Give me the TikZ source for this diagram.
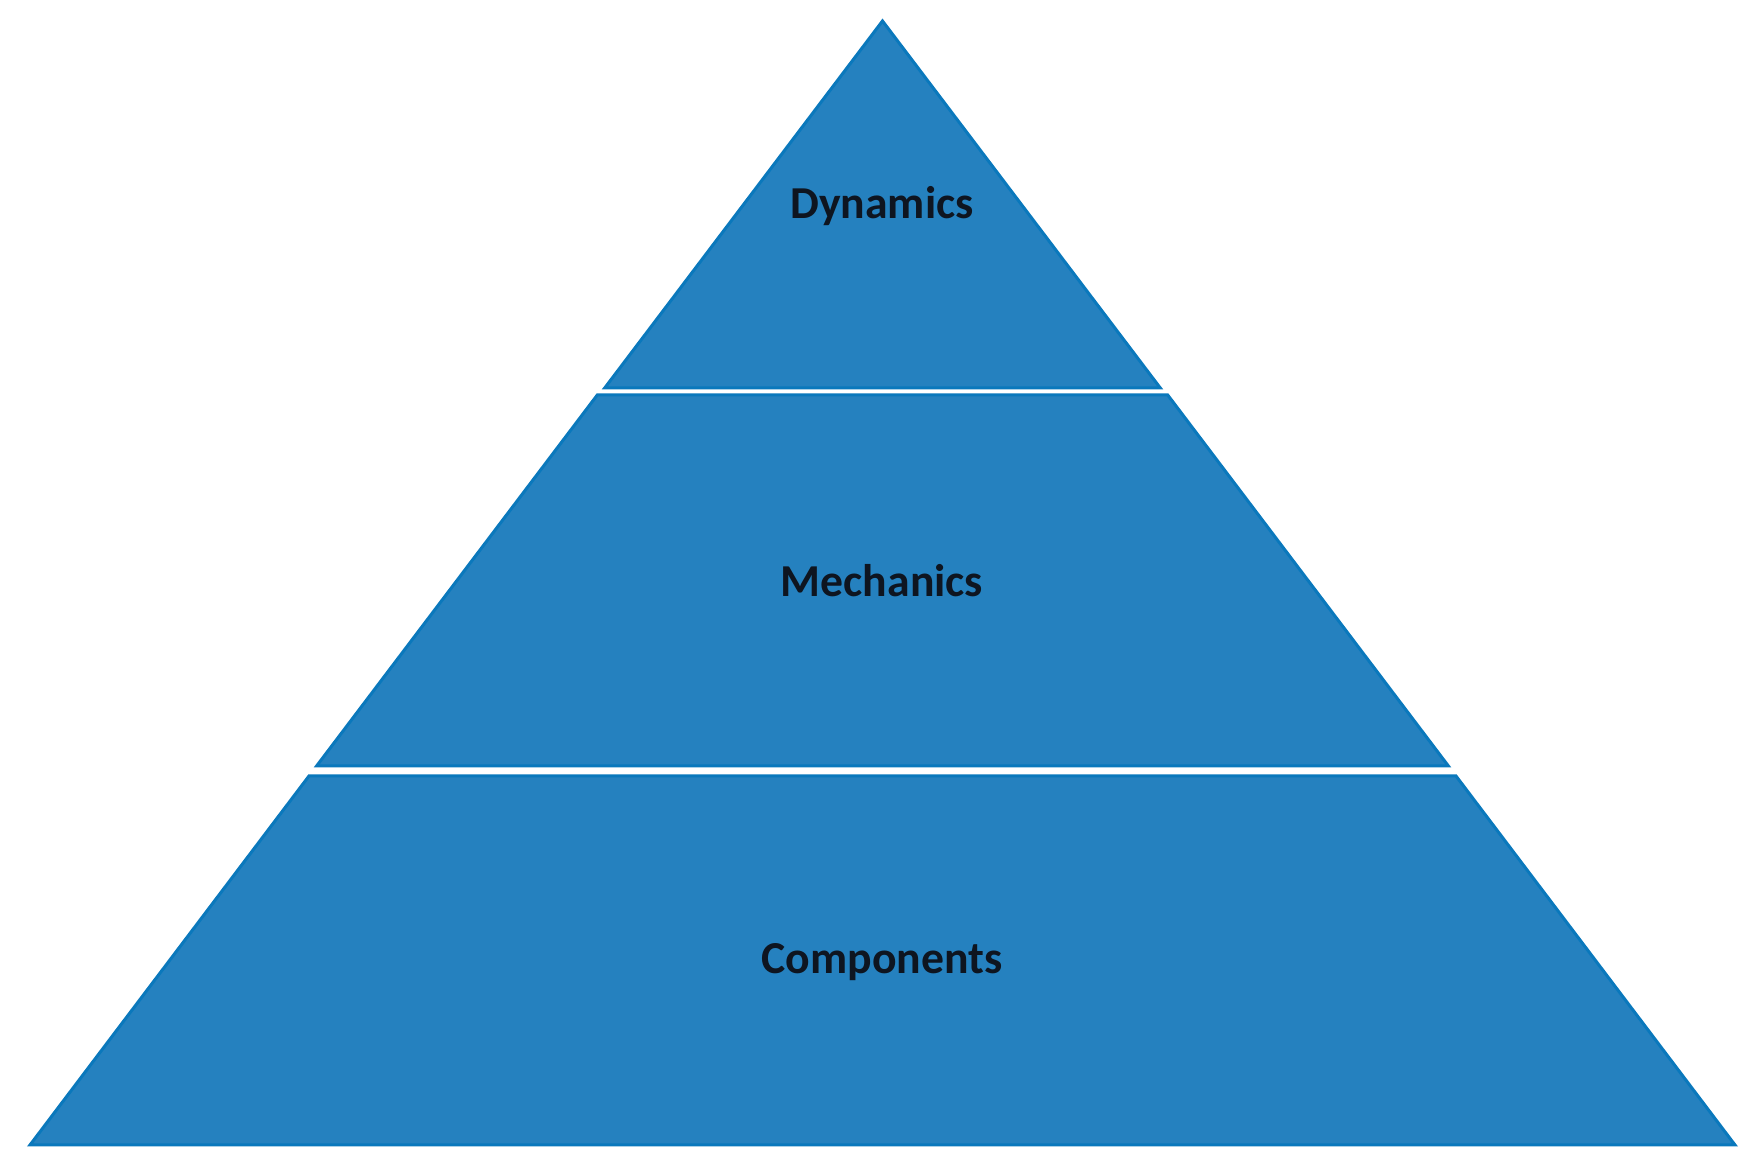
\documentclass[tikz,border=0pt]{standalone}
\usepackage{fontspec}
\setmainfont{Carlito}
\definecolor{pyrfill}{HTML}{2581BF}
\definecolor{pyredge}{HTML}{0A78BC}
\definecolor{pyrtext}{HTML}{0E1520}
\begin{document}
\begin{tikzpicture}[x=0.01cm,y=-0.01cm,
  layer/.style={fill=pyrfill,draw=pyredge,line width=0.03cm,line join=miter},
  lbl/.style={text=pyrtext,font=\fontsize{13pt}{16pt}\selectfont\bfseries}]
\useasboundingbox (0,0) rectangle (1756,1171);
\path[layer] (882.5,21) -- (1160.3,388) -- (604.7,388) -- cycle;
\path[layer] (597.3,395) -- (1167.7,395) -- (1448.4,766) -- (316.6,766) -- cycle;
\path[layer] (309.0,776) -- (1456.0,776) -- (1735.0,1145) -- (30.0,1145) -- cycle;
\node[lbl] (dyn) at (882,206) {Dynamics};
\node[lbl] (mech) at (882,581) {Mechanics};
\node[lbl] (comp) at (882,962) {Components};
\end{tikzpicture}
\end{document}
